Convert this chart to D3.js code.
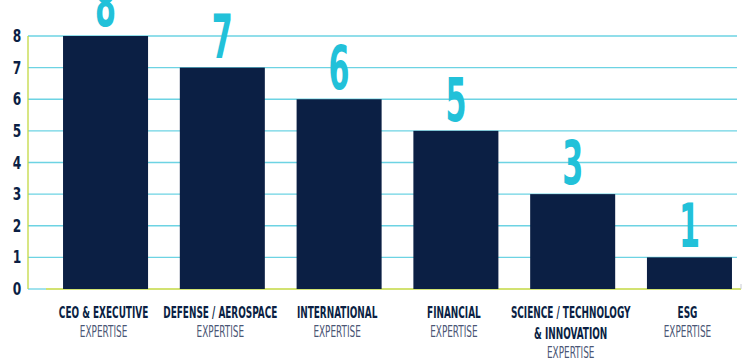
<!DOCTYPE html>
<html>
<head>
<meta charset="utf-8">
<script src="https://cdn.jsdelivr.net/npm/d3@7"></script>
<style>
  body { margin: 0; background: #fff; }
  svg { display: block; }
  text { font-family: "DejaVu Sans Condensed", "Roboto", sans-serif; }
</style>
</head>
<body>
<svg width="744" height="360"></svg>
<script>
var categories = ["CEO & EXECUTIVE", "DEFENSE / AEROSPACE", "INTERNATIONAL", "FINANCIAL", "SCIENCE / TECHNOLOGY|& INNOVATION", "ESG"];
var subLabels = ["EXPERTISE", "EXPERTISE", "EXPERTISE", "EXPERTISE", "EXPERTISE", "EXPERTISE"];
var values = [8, 7, 6, 5, 3, 1];
var yTicks = [0, 1, 2, 3, 4, 5, 6, 7, 8];

var svg = d3.select("svg"),
    plotLeft = 28,
    plotTop = 36,
    plotBottom = 289,
    plotRight = 740;

var xScale = d3.scaleBand().domain(categories).range([plotLeft, 767]).paddingInner(0.272).paddingOuter(0.3),
    yScale = d3.scaleLinear().domain([0, 8]).range([plotBottom, plotTop]);

// gridlines
svg.append("g")
   .selectAll("line")
   .data(yTicks)
   .enter().append("line")
   .attr("x1", plotLeft)
   .attr("x2", function(d) { return d === 0 ? 46 : plotRight - 3; })
   .attr("y1", function(d) { return yScale(d); })
   .attr("y2", function(d) { return yScale(d); })
   .style("stroke", "#6dd3e3")
   .style("stroke-width", 1.3);

// axis lines
svg.append("line")
   .attr("x1", 46).attr("x2", plotRight + 1)
   .attr("y1", yScale(0)).attr("y2", yScale(0))
   .style("stroke", "#c3d942").style("stroke-width", 1.3);
svg.append("line")
   .attr("x1", plotRight + 1).attr("x2", plotRight + 1)
   .attr("y1", yScale(0) - 5).attr("y2", yScale(0))
   .style("stroke", "#c9ccd4").style("stroke-width", 1);
svg.append("line")
   .attr("x1", plotLeft).attr("x2", plotLeft)
   .attr("y1", yScale(8)).attr("y2", yScale(0))
   .style("stroke", "#c3d942").style("stroke-width", 1.3);

// y tick labels
svg.append("g")
   .selectAll("text")
   .data(yTicks)
   .enter().append("text")
   .attr("transform", function(d) { return "translate(17," + (yScale(d) + 6) + ") scale(0.8,1)"; })
   .attr("text-anchor", "middle")
   .attr("font-size", "17px")
   .attr("font-weight", "bold")
   .style("fill", "#0b1f44")
   .text(function(d) { return d; });

// bars
svg.selectAll(".bar")
   .data(values)
   .enter().append("rect")
   .attr("class", "bar")
   .attr("x", function(d, i) { return xScale(categories[i]); })
   .attr("y", function(d) { return yScale(d); })
   .attr("width", xScale.bandwidth())
   .attr("height", function(d) { return plotBottom - yScale(d); })
   .style("fill", "#0b1f44");

// value labels
svg.selectAll(".val")
   .data(values)
   .enter().append("text")
   .attr("class", "val")
   .attr("transform", function(d, i) {
       return "translate(" + (xScale(categories[i]) + xScale.bandwidth() / 2) + "," + (yScale(d) - 10) + ") scale(0.56,1)";
   })
   .attr("text-anchor", "middle")
   .attr("font-size", "60px")
   .attr("font-weight", "bold")
   .style("fill", "#22c1d9")
   .text(function(d) { return d; });

// category labels
var lab = svg.selectAll(".cat")
   .data(categories)
   .enter().append("g")
   .attr("class", "cat")
   .attr("transform", function(d) { return "translate(" + (xScale(d) + xScale.bandwidth() / 2 - 2) + ",0)"; });

lab.each(function(d, i) {
    var g = d3.select(this),
        lines = d.split("|");
    lines.forEach(function(t, j) {
        g.append("text")
         .attr("transform", "translate(0," + (318 + j * 21) + ") scale(0.62,1)")
         .attr("text-anchor", "middle")
         .attr("font-size", "16px")
         .attr("font-weight", "bold")
         .style("fill", "#0b1f44")
         .text(t);
    });
    g.append("text")
     .attr("transform", "translate(0," + (337 + (lines.length - 1) * 21) + ") scale(0.66,1)")
     .attr("text-anchor", "middle")
     .attr("font-size", "15px")
     .style("fill", "#4b5675")
     .text(subLabels[i]);
});
</script>
</body>
</html>
